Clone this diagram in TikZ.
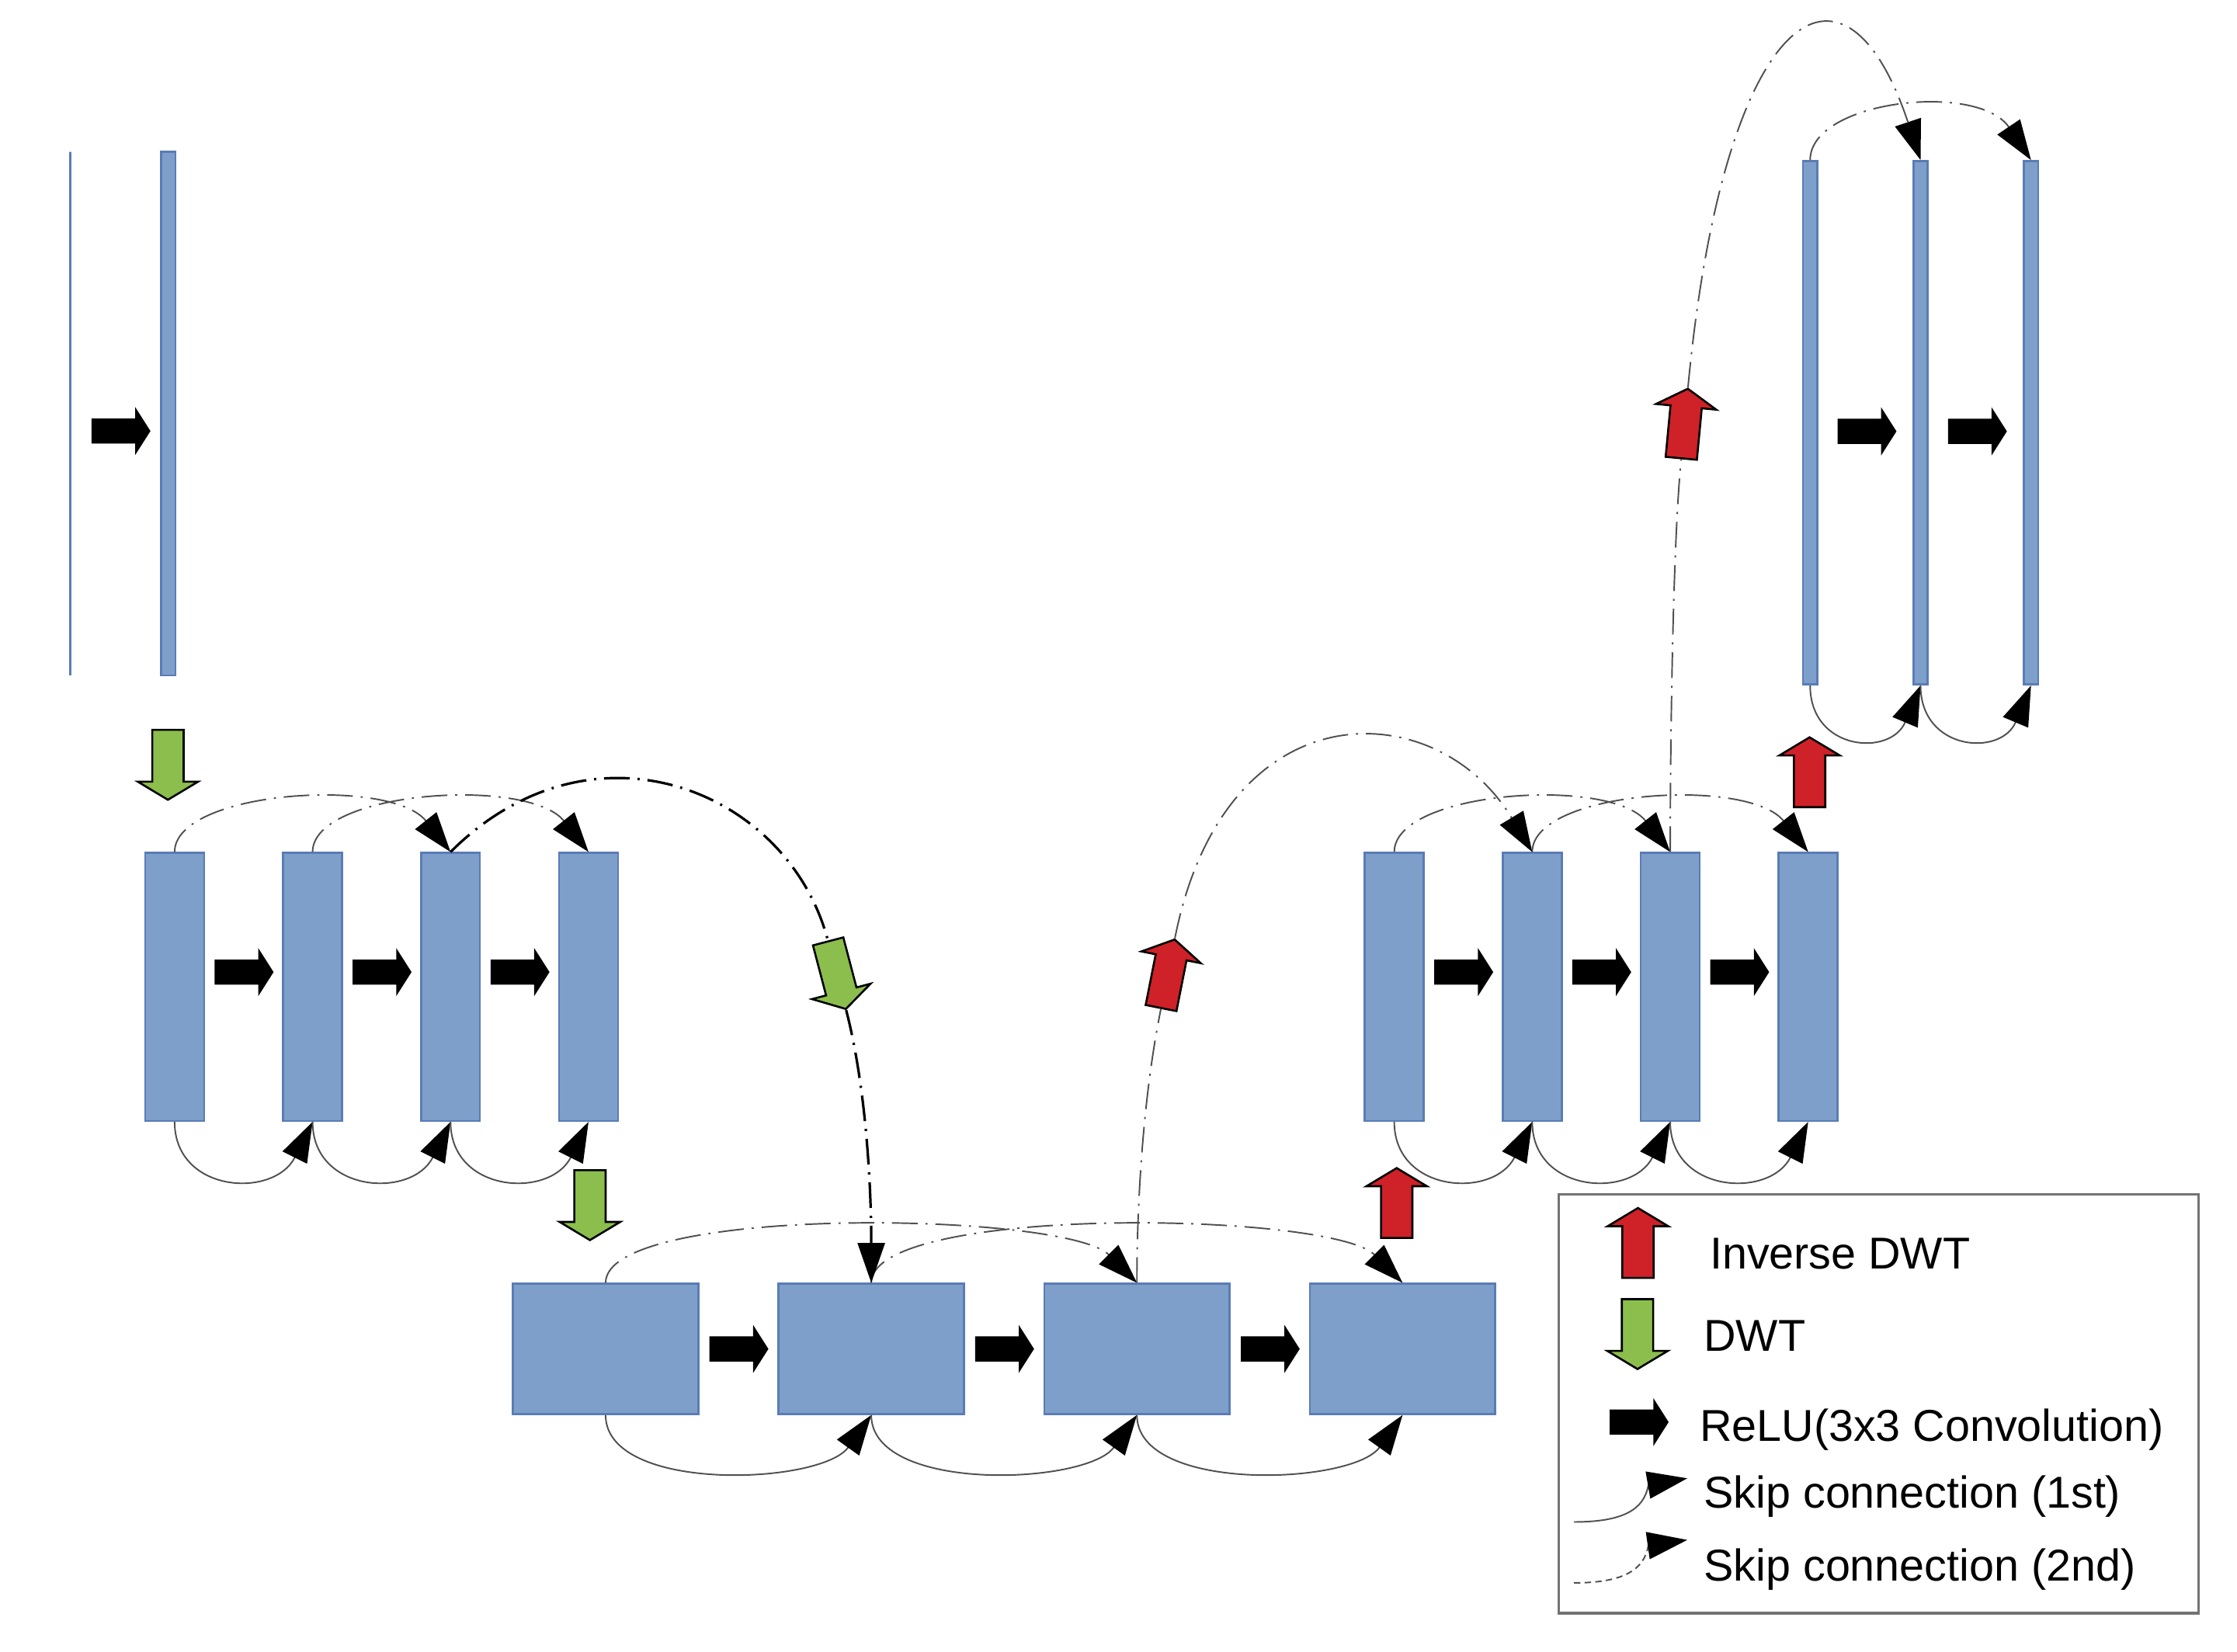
\documentclass[tikz,border=0pt]{standalone}
\usepackage{fontspec}
\setmainfont{Liberation Sans}
\usepackage{tikz}
\usetikzlibrary{arrows.meta,positioning,shapes.arrows}
\definecolor{MapBlue}{HTML}{7F9FCB}
\definecolor{MapEdge}{HTML}{5A7CB5}
\definecolor{DwtGreen}{HTML}{8BBE4C}
\definecolor{IdwtRed}{HTML}{CE2128}
\definecolor{SkipGray}{HTML}{505050}

\begin{document}
\begin{tikzpicture}[
  x=0.1mm, y=0.1mm,
  every node/.style={font=\fontsize{8.9}{10.7}\selectfont},
  fmap/.style={draw=MapEdge,line width=0.4pt,fill=MapBlue,inner sep=0pt,
    minimum width=4.13mm,minimum height=18.78mm},
  fmapthin/.style={fmap,minimum width=1mm,minimum height=36.7mm},
  fmapwide/.style={fmap,minimum width=13mm,minimum height=9.13mm},
  relu/.style={single arrow,fill=black,inner xsep=0pt,inner ysep=0.81mm,
    minimum height=4.13mm,minimum width=3.23mm,
    single arrow head extend=0.805mm,single arrow tip angle=115},
  wave/.style={single arrow,draw=black,line width=0.4pt,inner xsep=0pt,
    inner ysep=1.03mm,minimum height=4.9mm,minimum width=4.1mm,
    single arrow head extend=1.02mm,single arrow tip angle=118,anchor=tail},
  dwt/.style={wave,fill=DwtGreen},
  idwt/.style={wave,fill=IdwtRed},
  tipb/.style={-{Triangle[length=2.8mm,width=1.9mm,color=black,fill=black]}},
  skipa/.style={tipb,draw=SkipGray,line width=0.3pt},
  skipb/.style={skipa,dash pattern=on 1.8mm off 0.55mm on 0.15mm off 0.55mm},
  skipbig/.style={skipb,draw=black,line width=0.5pt},
  legtext/.style={anchor=base west,inner sep=0pt}
]
\useasboundingbox (0,0) rectangle (1568,1158);

% input and first block
\node[fmapthin,minimum width=0pt] (inp) at (49.3,868.1) {};
\node[fmapthin] (b0) at (118,868.1) {};
\node[relu,left=0.6mm of b0,yshift=-1.23mm] (r0) {};

% level 1 (left)
\node[fmap] (a1) at (122.4,466.1) {};
\node[fmap,right=5.4mm of a1] (a2) {};
\node[fmap,right=5.4mm of a2] (a3) {};
\node[fmap,right=5.4mm of a3] (a4) {};
\node[relu,right=0.6mm of a1,yshift=1.04mm] (ra1) {};
\node[relu,right=0.6mm of a2,yshift=1.04mm] (ra2) {};
\node[relu,right=0.6mm of a3,yshift=1.04mm] (ra3) {};

% level 2
\node[fmapwide] (c1) at (424.5,212.3) {};
\node[fmapwide,right=5.48mm of c1] (c2) {};
\node[fmapwide,right=5.48mm of c2] (c3) {};
\node[fmapwide,right=5.48mm of c3] (c4) {};
\node[relu,right=0.64mm of c1] (rc1) {};
\node[relu,right=0.64mm of c2] (rc2) {};
\node[relu,right=0.64mm of c3] (rc3) {};

% level 1 (right)
\node[fmap] (d1) at (977.3,466.1) {};
\node[fmap,right=5.4mm of d1] (d2) {};
\node[fmap,right=5.4mm of d2] (d3) {};
\node[fmap,right=5.4mm of d3] (d4) {};
\node[relu,right=0.6mm of d1,yshift=1.04mm] (rd1) {};
\node[relu,right=0.6mm of d2,yshift=1.04mm] (rd2) {};
\node[relu,right=0.6mm of d3,yshift=1.04mm] (rd3) {};

% output blocks
\node[fmapthin] (e1) at (1268.8,861.6) {};
\node[fmapthin,right=6.6mm of e1] (e2) {};
\node[fmapthin,right=6.6mm of e2] (e3) {};
\node[relu,right=1.28mm of e1,yshift=-0.6mm] (re1) {};
\node[relu,right=1.28mm of e2,yshift=-0.6mm] (re2) {};

% wavelet steps
\node[dwt,rotate=-90] (dwt1) at (117.7,647) {};
\node[dwt,rotate=-90] (dwt2) at (413.5,338.3) {};
\node[dwt,rotate=-75.3] (dwt3) at (580.3,498.7) {};
\node[idwt,rotate=90] (idwt1) at (979,289.4) {};
\node[idwt,rotate=78.8] (idwt2) at (813.7,450.6) {};
\node[idwt,rotate=90] (idwt3) at (1268.4,591.4) {};
\node[idwt,rotate=84.6] (idwt4) at (1178.4,836) {};

% first skip connections
\draw[skipa] (a1.south) .. controls +(0,-50) and +(-27,-54) .. (a2.south);
\draw[skipa] (a2.south) .. controls +(0,-50) and +(-27,-54) .. (a3.south);
\draw[skipa] (a3.south) .. controls +(0,-50) and +(-27,-54) .. (a4.south);
\draw[skipa] (c1.south) .. controls +(0,-55) and +(-35,-49) .. (c2.south);
\draw[skipa] (c2.south) .. controls +(0,-55) and +(-35,-49) .. (c3.south);
\draw[skipa] (c3.south) .. controls +(0,-55) and +(-35,-49) .. (c4.south);
\draw[skipa] (d1.south) .. controls +(0,-50) and +(-27,-54) .. (d2.south);
\draw[skipa] (d2.south) .. controls +(0,-50) and +(-27,-54) .. (d3.south);
\draw[skipa] (d3.south) .. controls +(0,-50) and +(-27,-54) .. (d4.south);
\draw[skipa] (e1.south) .. controls +(0,-46) and +(-21,-50) .. (e2.south);
\draw[skipa] (e2.south) .. controls +(0,-46) and +(-21,-50) .. (e3.south);

% second skip connections
\draw[skipb] (a1.north) .. controls +(0,43) and +(-42,53) .. (a3.north);
\draw[skipb] (a2.north) .. controls +(0,43) and +(-42,53) .. (a4.north);
\draw[skipb] (c1.north) .. controls +(0,55) and +(-50,50) .. (c3.north);
\draw[skipb] (c2.north) .. controls +(0,55) and +(-50,50) .. (c4.north);
\draw[skipb] (d1.north) .. controls +(0,43) and +(-42,53) .. (d3.north);
\draw[skipb] (d2.north) .. controls +(0,43) and +(-42,53) .. (d4.north);
\draw[skipb] (e1.north) .. controls +(0,42) and +(-37,55) .. (e3.north);

% long skips across the levels
\draw[skipbig,-] (a3.north) .. controls +(99,99) and +(-28,106) .. (dwt3.tail);
\draw[skipbig] (dwt3.tip) .. controls +(15,-58) and +(0,60) .. (c2.north);
\draw[skipb,-] (c3.north) .. controls +(0,60) and +(-12,-59) .. (idwt2.tail);
\draw[skipb] (idwt2.tip) .. controls +(35,177) and +(-67,111) .. (d2.north);
\draw[skipb,-] (d3.north) .. controls +(0,70) and +(-6,-60) .. (idwt4.tail);
\draw[skipb] (idwt4.tip) .. controls +(25,265) and +(-54,162) .. (e2.north);

% legend
\node[draw=black!55,line width=0.5pt,inner sep=0pt,minimum width=44.85mm,
  minimum height=29.35mm] (legend) at (1316.75,173.75) {};
\node[idwt,rotate=90] (legidwt) at (1148.1,261.4) {};
\node[dwt,rotate=-90] (legdwt) at (1147.8,247.9) {};
\node[relu,anchor=tail] (legrelu) at (1127.6,161) {};
\node[legtext] (tidwt) at (1197.8,268.3) {Inverse DWT};
\node[legtext] (tdwt) at (1193.6,210.7) {DWT};
\node[legtext] (trelu) at (1190.8,147.6) {ReLU(3x3 Convolution)};
\node[legtext] (tskipa) at (1193.7,101) {Skip connection (1st)};
\node[legtext] (tskipb) at (1193.7,49.8) {Skip connection (2nd)};
\coordinate (sa0) at (1103.2,91);
\coordinate (sa1) at (1155.4,116.9);
\coordinate (sa2) at (1182.7,121.6);
\coordinate (sb0) at (1103.2,48.3);
\coordinate (sb1) at (1155.4,74.5);
\coordinate (sb2) at (1182.7,78.4);
\draw[skipa,-] (sa0) .. controls +(35,0) and +(-3,-17) .. (sa1);
\draw[tipb] (sa1) -- (sa2);
\draw[skipa,-,dash pattern=on 0.45mm off 0.3mm] (sb0) .. controls +(35,0) and +(-3,-17) .. (sb1);
\draw[tipb] (sb1) -- (sb2);
\end{tikzpicture}
\end{document}
